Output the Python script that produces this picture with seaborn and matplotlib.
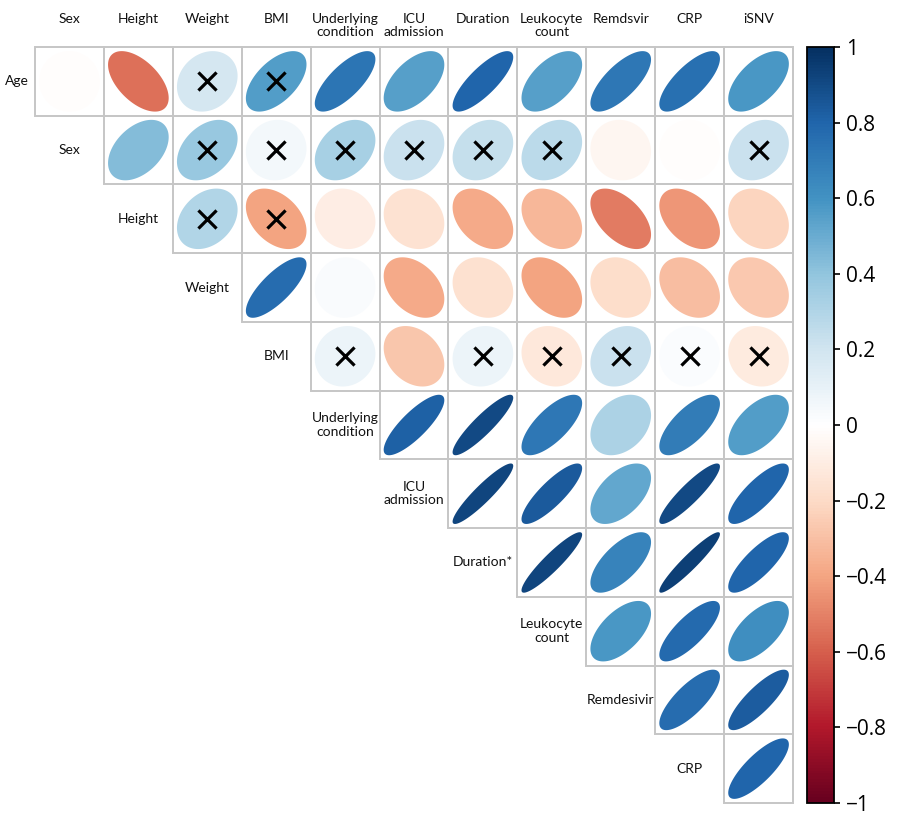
import numpy as np
import pandas as pd
import matplotlib
matplotlib.use("Agg")
import matplotlib.pyplot as plt
from matplotlib.patches import Polygon, Rectangle
from matplotlib.colors import ListedColormap, Normalize, LinearSegmentedColormap
import seaborn as sns

# column / row names of the upper triangle
col_labels = ["Sex", "Height", "Weight", "BMI", "Underlying\ncondition", "ICU\nadmission",
              "Duration", "Leukocyte\ncount", "Remdsvir", "CRP", "iSNV"]
row_labels = ["Age", "Sex", "Height", "Weight", "BMI", "Underlying\ncondition", "ICU\nadmission",
              "Duration*", "Leukocyte\ncount", "Remdesivir", "CRP"]

# correlation coefficients, row i starts at column i
corr_rows = [
    [-0.01, -0.55, 0.18, 0.56, 0.73, 0.55, 0.80, 0.55, 0.72, 0.75, 0.58],
    [0.43, 0.38, 0.05, 0.33, 0.22, 0.24, 0.27, -0.05, -0.01, 0.22],
    [0.30, -0.40, -0.10, -0.16, -0.38, -0.33, -0.52, -0.44, -0.22],
    [0.77, 0.03, -0.38, -0.17, -0.40, -0.18, -0.31, -0.27],
    [0.08, -0.28, 0.08, -0.13, 0.22, 0.02, -0.11],
    [0.82, 0.90, 0.72, 0.32, 0.70, 0.56],
    [0.92, 0.84, 0.52, 0.90, 0.80],
    [0.92, 0.67, 0.94, 0.80],
    [0.58, 0.78, 0.62],
    [0.77, 0.83],
    [0.80],
]

# 1 = not significant (crossed out)
not_sig_rows = [
    [0, 0, 1, 1, 0, 0, 0, 0, 0, 0, 0],
    [0, 1, 1, 1, 1, 1, 1, 0, 0, 1],
    [1, 1, 0, 0, 0, 0, 0, 0, 0],
    [0, 0, 0, 0, 0, 0, 0, 0],
    [1, 0, 1, 1, 1, 1, 1],
    [0, 0, 0, 0, 0, 0],
    [0, 0, 0, 0, 0],
    [0, 0, 0, 0],
    [0, 0, 0],
    [0, 0],
    [0],
]

n = len(col_labels)
mat = np.full((n, n), np.nan)
cross = np.zeros((n, n), dtype=bool)
for i, vals in enumerate(corr_rows):
    mat[i, i:] = vals
    cross[i, i:] = np.array(not_sig_rows[i], dtype=bool)
corr = pd.DataFrame(mat, index=row_labels, columns=col_labels)

sns.set_theme(style="white")
plt.rcParams['font.family'] = ['Lato', 'DejaVu Sans']

fig = plt.figure(figsize=(9, 8.16), dpi=100)
ax = fig.add_axes([35 / 900, 1 - 803 / 816, 758 / 900, 756 / 816])

# white cells, lower triangle left empty
sns.heatmap(corr, mask=corr.isna(), cmap=ListedColormap(["white"]), vmin=-1, vmax=1,
            cbar=False, xticklabels=False, yticklabels=False, ax=ax)

# RdBu with a pure white middle, like corrplot's palette
rdbu = ["#67001f", "#b2182b", "#d6604d", "#f4a582", "#fddbc7", "#ffffff",
        "#d1e5f0", "#92c5de", "#4393c3", "#2166ac", "#053061"]
cmap = LinearSegmentedColormap.from_list("rdbu_white", rdbu)
norm = Normalize(-1, 1)
t = np.linspace(0, 2 * np.pi, 120)
for i in range(n):
    for j in range(i, n):
        # grey cell border
        ax.add_patch(Rectangle((j, i), 1, 1, facecolor="none", edgecolor="#c6c6c6",
                               linewidth=1.4, zorder=2, clip_on=False))
        r = mat[i, j]
        d = np.arccos(r)
        ex = 0.44 * np.cos(t + d / 2)
        ey = 0.44 * np.cos(t - d / 2)
        pts = np.column_stack([j + 0.5 + ex, i + 0.5 - ey])
        ax.add_patch(Polygon(pts, closed=True, facecolor=cmap(norm(r)),
                             edgecolor="none", zorder=3))

ii, jj = np.nonzero(cross)
ax.scatter(jj + 0.5, ii + 0.5, marker="x", s=170, c="black", linewidths=2.3, zorder=5)

for j, lab in enumerate(col_labels):
    ax.text(j + 0.5, -0.5, lab, ha="center", va="top", fontsize=10,
            color="#111111", linespacing=1.15)
for i, lab in enumerate(row_labels):
    ax.text(max(i - 0.5, -0.27), i + 0.5, lab, ha="center", va="center",
            fontsize=10, color="#111111", linespacing=1.15)

# colour bar
cax = fig.add_axes([807 / 900, 1 - 803 / 816, 27 / 900, 756 / 816])
sm = plt.cm.ScalarMappable(norm=norm, cmap=cmap)
cb = fig.colorbar(sm, cax=cax)
ticks = np.round(np.linspace(-1, 1, 11), 1)
cb.set_ticks(ticks)
cb.set_ticklabels(["0" if v == 0 else f"{v:g}".replace("-", "\u2212") for v in ticks])
cax.yaxis.set_ticks_position("right")
cax.tick_params(axis="y", right=True, length=4.5, width=1.2, color="black",
                labelsize=15, labelcolor="black", pad=4)
for lab in cax.get_yticklabels():
    lab.set_fontfamily(["Open Sans", "DejaVu Sans"])
cb.outline.set_edgecolor("black")
cb.outline.set_linewidth(1.3)

plt.savefig("out.png", dpi=100)
